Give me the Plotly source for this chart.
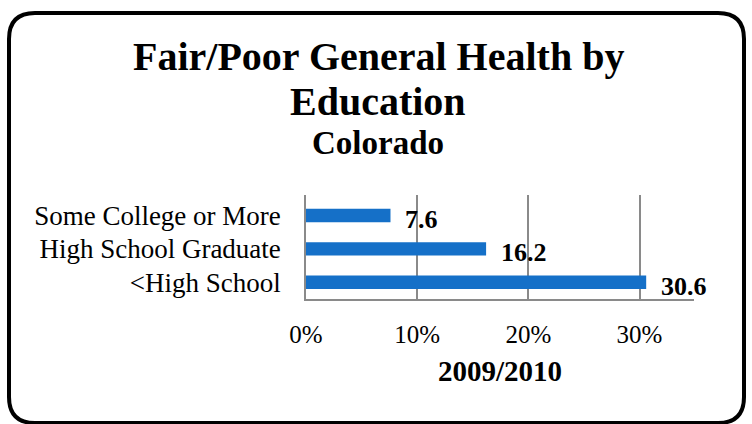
import plotly.graph_objects as go

# Data
categories = ["Some College or More", "High School Graduate", "<High School"]
values = [7.6, 16.2, 30.6]
x_ticks = [0, 10, 20, 30]
x_tick_labels = ["0%", "10%", "20%", "30%"]
title_lines = ["Fair/Poor General Health by", "Education"]
subtitle = "Colorado"
x_title = "2009/2010"

W, H = 752, 424
# plot area in pixels
L, R, T, B = 306, 694, 195, 299

SERIF = "Liberation Serif"
BAR = "#1570c8"
GRID = "#8a8a8a"

fig = go.Figure(
    go.Bar(
        x=values,
        y=categories,
        orientation="h",
        marker=dict(color=BAR, line=dict(width=0)),
        width=0.4,
        hoverinfo="skip",
    )
)

# value labels at the bar ends
for v, c in zip(values, categories):
    fig.add_annotation(
        x=v, y=c, xref="x", yref="y",
        text=f"<b>{v}</b>", showarrow=False,
        xanchor="left", yanchor="middle",
        xshift=13, yshift=-4,
        font=dict(family=SERIF, size=26, color="black"),
    )

def px_to_paper(X, Y):
    return (X - L) / (R - L), (B - Y) / (B - T)

# rounded frame around the whole chart
x0, y0, x1, y1, r = 9, 13, 744, 423, 26
pts = [
    ("M", x0 + r, y0), ("L", x1 - r, y0), ("Q", x1, y0, x1, y0 + r),
    ("L", x1, y1 - r), ("Q", x1, y1, x1 - r, y1),
    ("L", x0 + r, y1), ("Q", x0, y1, x0, y1 - r),
    ("L", x0, y0 + r), ("Q", x0, y0, x0 + r, y0),
]
path = ""
for p in pts:
    cmd, coords = p[0], p[1:]
    segs = []
    for i in range(0, len(coords), 2):
        px, py = px_to_paper(coords[i], coords[i + 1])
        segs.append(f"{px:.5f},{py:.5f}")
    path += cmd + " ".join(segs) + " "
path += "Z"
fig.add_shape(type="path", path=path, xref="paper", yref="paper",
              line=dict(color="black", width=4), fillcolor="rgba(0,0,0,0)",
              layer="above")

# titles, one annotation per line
cx = px_to_paper(378, 0)[0]
for text, cy, size in [(title_lines[0], 57, 40), (title_lines[1], 101, 40),
                       (subtitle, 143, 33)]:
    fig.add_annotation(
        text=f"<b>{text}</b>",
        xref="paper", yref="paper",
        x=cx, y=px_to_paper(0, cy)[1],
        showarrow=False, xanchor="center", yanchor="middle",
        font=dict(family=SERIF, size=size, color="black"),
    )

fig.update_layout(
    width=W, height=H,
    margin=dict(l=L, r=W - R, t=T, b=H - B, pad=0),
    paper_bgcolor="white", plot_bgcolor="white",
    showlegend=False,
    xaxis=dict(
        range=[0, 34.9],
        tickvals=x_ticks, ticktext=x_tick_labels,
        showgrid=True, gridcolor=GRID, gridwidth=1.5,
        showline=True, linecolor=GRID, linewidth=1.5,
        zeroline=False, ticks="",
        ticklabelstandoff=12,
        tickfont=dict(family=SERIF, size=25, color="black"),
        title=dict(text=f"<b>{x_title}</b>", standoff=14,
                   font=dict(family=SERIF, size=29, color="black")),
        fixedrange=True,
    ),
    yaxis=dict(
        categoryorder="array", categoryarray=categories,
        autorange="reversed",
        showgrid=False, zeroline=False,
        showline=True, linecolor=GRID, linewidth=1.5,
        ticks="", ticklabelstandoff=18,
        tickfont=dict(family=SERIF, size=27, color="black"),
        fixedrange=True,
    ),
)

fig.write_html("out.html")
